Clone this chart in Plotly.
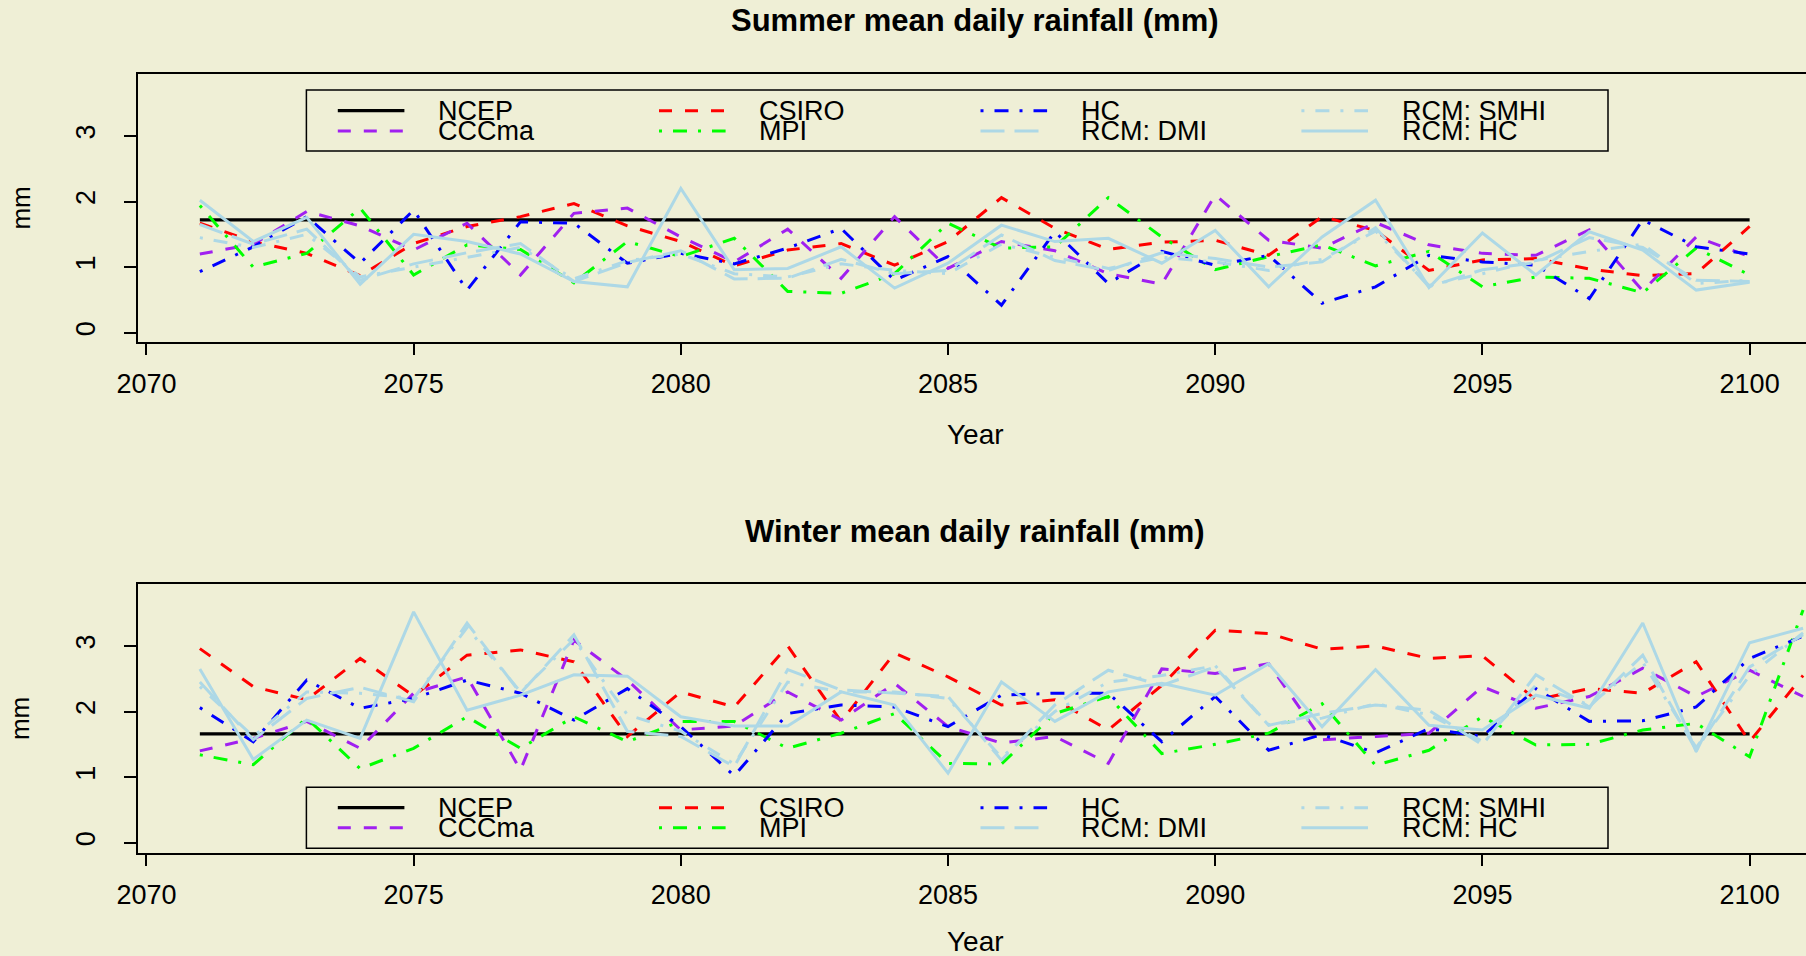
import plotly.graph_objects as go

# ---------------------------------------------------------------- data
SUMMER_YEARS = list(range(2071, 2101))
WINTER_YEARS = list(range(2071, 2102))
NCEP_YEARS = [2071, 2100]

NCEP_SUMMER = 1.72
NCEP_WINTER = 1.66

CSIRO_SUMMER = [1.67, 1.39, 1.21, 0.87, 1.36, 1.62, 1.77, 1.97, 1.63, 1.39,
                1.02, 1.26, 1.36, 1.03, 1.39, 2.06, 1.59, 1.27, 1.38, 1.41,
                1.18, 1.77, 1.56, 0.95, 1.11, 1.13, 0.97, 0.87, 0.90, 1.62]
CCCMA_SUMMER = [1.20, 1.35, 1.85, 1.63, 1.26, 1.67, 0.88, 1.82, 1.90, 1.46,
                1.08, 1.58, 0.83, 1.77, 0.98, 1.39, 1.25, 0.90, 0.74, 2.10,
                1.41, 1.29, 1.68, 1.34, 1.21, 1.18, 1.57, 0.64, 1.46, 1.16]
MPI_SUMMER = [1.94, 1.00, 1.21, 1.90, 0.88, 1.34, 1.27, 0.76, 1.39, 1.16,
              1.44, 0.63, 0.60, 0.90, 1.67, 1.29, 1.31, 2.06, 1.46, 0.96,
              1.16, 1.34, 1.02, 1.24, 0.70, 0.85, 0.83, 0.61, 1.29, 0.88]
HC_SUMMER = [0.93, 1.31, 1.77, 1.06, 1.87, 0.65, 1.69, 1.67, 1.06, 1.21,
             1.05, 1.29, 1.59, 0.80, 1.16, 0.42, 1.54, 0.75, 1.24, 1.03,
             1.18, 0.45, 0.70, 1.18, 1.08, 1.03, 0.52, 1.72, 1.31, 1.20]
DMI_SUMMER = [1.65, 1.35, 1.58, 0.80, 1.05, 1.22, 1.36, 0.78, 1.07, 1.25,
              0.82, 0.83, 1.12, 0.90, 0.95, 1.49, 1.10, 0.95, 1.22, 1.13,
              1.00, 1.08, 1.60, 0.70, 0.96, 1.07, 1.45, 1.30, 0.80, 0.78]
SMHI_SUMMER = [1.45, 1.30, 1.50, 0.85, 1.00, 1.15, 1.30, 0.82, 1.10, 1.20,
               0.90, 0.85, 1.05, 0.95, 0.90, 1.35, 1.15, 0.98, 1.15, 1.08,
               0.95, 1.12, 1.55, 0.72, 0.90, 1.10, 1.24, 1.35, 0.75, 0.80]
RCMHC_SUMMER = [2.02, 1.39, 1.76, 0.74, 1.50, 1.39, 1.20, 0.78, 0.70, 2.20,
                0.96, 0.98, 1.31, 0.68, 1.06, 1.64, 1.39, 1.44, 1.06, 1.56,
                0.70, 1.46, 2.02, 0.69, 1.52, 0.88, 1.54, 1.26, 0.65, 0.77]

CSIRO_WINTER = [2.96, 2.38, 2.18, 2.81, 2.24, 2.86, 2.94, 2.76, 1.62, 2.30,
                2.07, 3.00, 1.85, 2.89, 2.53, 2.10, 2.18, 1.72, 2.40, 3.24,
                3.19, 2.95, 3.00, 2.81, 2.85, 2.18, 2.35, 2.28, 2.76, 1.54,
                2.55]
CCCMA_WINTER = [1.40, 1.59, 1.85, 1.44, 2.28, 2.53, 1.11, 3.09, 2.48, 1.72,
                1.78, 2.30, 1.87, 2.43, 1.77, 1.52, 1.62, 1.21, 2.65, 2.58,
                2.73, 1.57, 1.62, 1.67, 2.38, 2.05, 2.23, 2.66, 2.23, 2.63,
                2.23]
MPI_WINTER = [1.34, 1.19, 1.90, 1.13, 1.44, 1.92, 1.44, 1.92, 1.54, 1.85,
              1.85, 1.44, 1.67, 1.97, 1.21, 1.20, 1.97, 2.23, 1.36, 1.50,
              1.67, 2.12, 1.18, 1.41, 1.92, 1.49, 1.50, 1.72, 1.82, 1.31,
              3.55]
HC_WINTER = [2.06, 1.54, 2.48, 2.05, 2.20, 2.48, 2.28, 1.87, 2.35, 1.77,
             1.02, 1.97, 2.10, 2.07, 1.77, 2.25, 2.28, 2.28, 1.54, 2.23,
             1.41, 1.65, 1.37, 1.74, 1.62, 2.35, 1.85, 1.86, 2.07, 2.81,
             3.15]
DMI_WINTER = [2.45, 1.57, 2.20, 2.37, 2.15, 3.35, 2.28, 3.17, 1.70, 1.62,
              1.16, 2.64, 2.33, 2.28, 2.23, 1.26, 2.10, 2.63, 2.40, 2.68,
              1.79, 1.97, 2.10, 2.02, 1.49, 2.56, 2.07, 2.86, 1.41, 2.68,
              3.17]
SMHI_WINTER = [2.38, 1.62, 2.30, 2.28, 2.20, 3.28, 2.30, 3.10, 1.95, 1.70,
               1.20, 2.45, 2.30, 2.30, 2.20, 1.30, 2.00, 2.45, 2.55, 2.70,
               1.80, 1.90, 2.12, 1.95, 1.55, 2.40, 2.10, 2.75, 1.45, 2.55,
               3.20]
RCMHC_WINTER = [2.65, 1.27, 1.87, 1.59, 3.52, 2.02, 2.25, 2.56, 2.54, 1.92,
                1.78, 1.78, 2.30, 2.10, 1.06, 2.45, 1.85, 2.30, 2.43, 2.25,
                2.73, 1.77, 2.64, 1.79, 1.72, 2.25, 2.05, 3.35, 1.39, 3.05,
                3.27]

X_TICKS = [2070, 2075, 2080, 2085, 2090, 2095, 2100]
Y_TICKS = [0, 1, 2, 3]

# legend order (filled column by column, two rows)
LEGEND_ORDER = ["NCEP", "CCCma", "CSIRO", "MPI", "HC", "RCM: DMI", "RCM: SMHI", "RCM: HC"]
# drawing order of model series
MODEL_ORDER = ["CSIRO", "CCCma", "MPI", "HC", "RCM: DMI", "RCM: SMHI", "RCM: HC"]

SUMMER = {"CSIRO": CSIRO_SUMMER, "CCCma": CCCMA_SUMMER, "MPI": MPI_SUMMER,
          "HC": HC_SUMMER, "RCM: DMI": DMI_SUMMER, "RCM: SMHI": SMHI_SUMMER,
          "RCM: HC": RCMHC_SUMMER}
WINTER = {"CSIRO": CSIRO_WINTER, "CCCma": CCCMA_WINTER, "MPI": MPI_WINTER,
          "HC": HC_WINTER, "RCM: DMI": DMI_WINTER, "RCM: SMHI": SMHI_WINTER,
          "RCM: HC": RCMHC_WINTER}

# ---------------------------------------------------------------- styling
W, H = 1806, 956
BG = "#EFEFD6"
FONT = "Liberation Sans, Arial, Helvetica, sans-serif"
DASHED = "13px,13px"
DOTDASH = "3px,11px,14px,11px"
LONGDASH = "24px,10px"
LW = 3

STYLE = {
    "NCEP": dict(color="#000000", dash="solid", width=3.2),
    "CSIRO": dict(color="#FF0000", dash=DASHED, width=LW),
    "CCCma": dict(color="#A020F0", dash=DASHED, width=LW),
    "MPI": dict(color="#00FF00", dash=DOTDASH, width=LW),
    "HC": dict(color="#0000FF", dash=DOTDASH, width=LW),
    "RCM: DMI": dict(color="#ADD8E6", dash=LONGDASH, width=LW),
    "RCM: SMHI": dict(color="#ADD8E6", dash=DOTDASH, width=LW),
    "RCM: HC": dict(color="#ADD8E6", dash="solid", width=LW),
}

TICK_SIZE = 27
LEGEND_SIZE = 27
TITLE_SIZE = 31
LABEL_SIZE = 28


def fx(x):
    return x / W


def fy(y):
    return 1 - y / H


PANELS = [
    dict(ax="", years=SUMMER_YEARS, ncep=NCEP_SUMMER, series=SUMMER,
         top=74, bottom=341.7, yrange=[-0.137, 3.945],
         title="Summer mean daily rainfall (mm)", title_y=20.7, xlab_y=434,
         legend_top=90, legend_bottom=151, rows=(110.7, 131.0)),
    dict(ax="2", years=WINTER_YEARS, ncep=NCEP_WINTER, series=WINTER,
         top=584, bottom=852.7, yrange=[-0.152, 3.945],
         title="Winter mean daily rainfall (mm)", title_y=531, xlab_y=941,
         legend_top=787.3, legend_bottom=848.3, rows=(807.7, 827.7)),
]

LEFT = 137.7
X_RANGE = [2069.837, 2101.055]
LEG_LEFT, LEG_RIGHT = 306.4, 1608
LEG_COL_X = [337.8, 659.0, 980.5, 1301.4]
LEG_SAMPLE_LEN = 66.6
LEG_TEXT_DX = 98.2

fig = go.Figure()
shapes = []
annotations = []
layout_axes = {}

for p in PANELS:
    xa, ya = "x" + p["ax"], "y" + p["ax"]
    st = STYLE["NCEP"]
    fig.add_trace(go.Scatter(
        x=NCEP_YEARS, y=[p["ncep"], p["ncep"]], mode="lines", name="NCEP",
        line=dict(color=st["color"], width=st["width"], dash=st["dash"]),
        xaxis=xa, yaxis=ya, showlegend=False, hoverinfo="skip"))
    for name in MODEL_ORDER:
        st = STYLE[name]
        fig.add_trace(go.Scatter(
            x=p["years"], y=p["series"][name], mode="lines", name=name,
            line=dict(color=st["color"], width=st["width"], dash=st["dash"]),
            xaxis=xa, yaxis=ya, showlegend=False))

    layout_axes["xaxis" + p["ax"]] = dict(
        domain=[fx(LEFT), 1.0], range=X_RANGE, anchor=ya, automargin=False,
        tickmode="array", tickvals=X_TICKS, ticktext=[str(t) for t in X_TICKS],
        ticks="outside", ticklen=12, tickwidth=1.5, tickcolor="black",
        showline=True, linecolor="black", linewidth=1.5, mirror=True,
        showgrid=False, zeroline=False, ticklabelstandoff=5,
        tickfont=dict(family=FONT, size=TICK_SIZE, color="black"))
    layout_axes["yaxis" + p["ax"]] = dict(
        domain=[fy(p["bottom"]), fy(p["top"])], range=p["yrange"], anchor=xa,
        automargin=False,
        tickmode="array", tickvals=Y_TICKS, ticktext=[str(t) for t in Y_TICKS],
        tickangle=-90, ticks="outside", ticklen=12, tickwidth=1.5,
        tickcolor="black", showline=True, linecolor="black", linewidth=1.5,
        mirror=False, showgrid=False, zeroline=False, ticklabelstandoff=18,
        tickfont=dict(family=FONT, size=TICK_SIZE, color="black"))

    # titles and axis labels
    annotations.append(dict(
        x=fx(975), y=fy(p["title_y"]), xref="paper", yref="paper",
        text="<b>" + p["title"] + "</b>", showarrow=False,
        xanchor="center", yanchor="middle",
        font=dict(family=FONT, size=TITLE_SIZE, color="black")))
    annotations.append(dict(
        x=fx(975), y=fy(p["xlab_y"]), xref="paper", yref="paper",
        text="Year", showarrow=False, xanchor="center", yanchor="middle",
        font=dict(family=FONT, size=LABEL_SIZE, color="black")))
    annotations.append(dict(
        x=fx(20.7), y=fy((p["top"] + p["bottom"]) / 2), xref="paper",
        yref="paper", text="mm", textangle=-90, showarrow=False,
        xanchor="center", yanchor="middle",
        font=dict(family=FONT, size=26, color="black")))

    # legend box with line samples
    shapes.append(dict(
        type="rect", xref="paper", yref="paper", layer="above",
        x0=fx(LEG_LEFT), x1=fx(LEG_RIGHT),
        y0=fy(p["legend_bottom"]), y1=fy(p["legend_top"]),
        line=dict(color="black", width=1.5), fillcolor=BG))
    for i, name in enumerate(LEGEND_ORDER):
        col, row = i // 2, i % 2
        st = STYLE[name]
        x0 = LEG_COL_X[col]
        y = p["rows"][row]
        shapes.append(dict(
            type="line", xref="paper", yref="paper", layer="above",
            x0=fx(x0), x1=fx(x0 + LEG_SAMPLE_LEN), y0=fy(y), y1=fy(y),
            line=dict(color=st["color"], width=st["width"], dash=st["dash"])))
        annotations.append(dict(
            x=fx(x0 + LEG_TEXT_DX), y=fy(y), xref="paper", yref="paper",
            text=name, showarrow=False, xanchor="left", yanchor="middle",
            font=dict(family=FONT, size=LEGEND_SIZE, color="black")))

fig.update_layout(
    width=W, height=H, autosize=False,
    margin=dict(l=0, r=0, t=0, b=0, pad=0),
    paper_bgcolor=BG, plot_bgcolor=BG,
    showlegend=False,
    shapes=shapes, annotations=annotations,
    font=dict(family=FONT, color="black"),
    **layout_axes)

fig.write_html("out.html", post_script="document.body.style.margin='0';")
